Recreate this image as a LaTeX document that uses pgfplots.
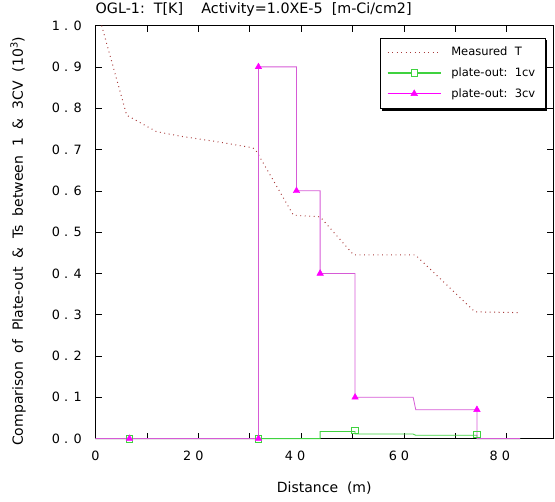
\documentclass[border=0pt]{standalone}
\usepackage{fontspec}
\setmainfont{DejaVu Sans}
\usepackage{pgfplots}
\pgfplotsset{compat=1.18}
\usetikzlibrary{calc}
\definecolor{Tred}{HTML}{A83A3A}
\definecolor{Pgreen}{HTML}{3FD23F}
\definecolor{Pmag}{HTML}{FF00FF}
\definecolor{Pline}{HTML}{D65AD6}
\pgfdeclarelayer{background}
\pgfsetlayers{background,main}

\begin{document}
\begin{tikzpicture}
\begin{axis}[
  name=ax, scale only axis, width=457.5pt, height=413pt,
  xmin=0, xmax=89, ymin=0, ymax=1, clip=false,
  axis line style={line width=0.8pt},
  tick align=inside, xtick pos=both, ytick pos=both,
  major tick length=6pt, tick style={black,line width=0.6pt},
  xtick={0,10,20,30,40,50,60,70,80},
  xticklabels={0,,2 0\hspace*{10pt},,4 0\hspace*{12pt},,6 0\hspace*{10pt},,8 0\hspace*{14pt}},
  ytick={0,0.1,0.2,0.3,0.4,0.5,0.6,0.7,0.8,0.9,1.0},
  yticklabels={0 . 0,0 . 1,0 . 2,0 . 3,0 . 4,0 . 5,0 . 6,0 . 7,0 . 8,0 . 9,1 . 0},
  tick label style={font=\fontsize{12.8}{14}\selectfont},
  yticklabel style={inner sep=0pt, anchor=east, xshift=-13.5pt},
  xticklabel style={inner sep=0pt, anchor=north, yshift=-12pt},
  xlabel={Distance\ \ (m)},
  xlabel style={at={(axis description cs:0.5,-0.1196)}, anchor=center, font=\fontsize{14}{16}\selectfont},
  ylabel={Comparison\ \ of\ \ Plate-out\ \ \&\ \ Ts\ \ between\ \ 1\ \ \&\ \ 3CV\ \ (10\textsuperscript{3})},
  ylabel style={at={(axis description cs:-0.1694,0.478)}, anchor=center, font=\fontsize{14}{16}\selectfont},
  title={OGL-1:\ \ T[K]\ \ \ \ Activity=1.0XE-5\ \ [m-Ci/cm2]},
  title style={at={(axis description cs:0,1.0242)}, anchor=west, inner sep=0pt, font=\fontsize{14.3}{16}\selectfont},
  legend image code/.code={\draw[mark repeat=2,mark phase=2,#1] plot coordinates {(0pt,0pt)(26.5pt,0pt)(53pt,0pt)};},
  legend style={name=leg, at={(0.9825,0.970)}, anchor=north east, draw=none, fill=white,
    font=\fontsize{11.5}{13}\selectfont, row sep=6.5pt, inner xsep=7pt, inner ysep=7pt},
  legend cell align=left,
]
\addplot[Tred, line width=1pt, dash pattern=on 0.9pt off 3.6pt] coordinates {
  (1.2,1.0) (6.07,0.783) (11.9,0.743) (17.1,0.731) (23.6,0.719) (30.6,0.704) (31.2,0.698)
  (38.5,0.541) (43.7,0.537) (50.2,0.445) (62.2,0.445) (73.8,0.307) (82.6,0.305)};
\addlegendentry{\hspace*{8pt}Measured\ \ T\hspace*{14pt}}
\addlegendimage{legend image code/.code={
  \draw[Pgreen, line width=1.1pt] (0pt,0pt) -- (53pt,0pt);
  \draw[Pgreen, line width=0.8pt] plot[only marks, mark=square*, mark size=3.3pt, mark options={fill=white}] coordinates {(26.5pt,0pt)};}}
\addlegendentry{\hspace*{8pt}plate-out:\ \ 1cv}
\addlegendimage{legend image code/.code={
  \draw[Pmag, line width=1.1pt] (0pt,0pt) -- (53pt,0pt);
  \draw[Pmag, line width=0.6pt] plot[only marks, mark=triangle*, mark size=3.8pt, mark options={fill=Pmag}] coordinates {(26.5pt,0pt)};}}
\addlegendentry{\hspace*{8pt}plate-out:\ \ 3cv}

\addplot[Pgreen, line width=0.8pt, forget plot] coordinates {
  (0,0) (43.7,0) (43.7,0.017) (50.5,0.017) (50.5,0.011) (61.8,0.011) (62.3,0.008)
  (74.2,0.008) (74.2,0) (82.6,0)};
\addplot[only marks, Pgreen, mark=square, mark size=3.3pt, line width=0.8pt, forget plot] coordinates {
  (6.6,0) (31.7,0) (50.5,0.02) (74.2,0.01)};
\addplot[Pline, line width=0.8pt, forget plot] coordinates {
  (0,0) (31.7,0) (31.7,0.9) (39.1,0.9) (39.1,0.6) (43.7,0.6) (43.7,0.4) (50.5,0.4)
  (50.5,0.1) (61.8,0.1) (62.3,0.07) (74.2,0.07) (74.2,0) (82.6,0)};
\addplot[only marks, Pmag, mark=triangle*, mark size=3.8pt, mark options={fill=Pmag}, forget plot] coordinates {
  (6.6,0) (31.7,0) (31.7,0.9) (39.1,0.6) (43.7,0.4) (50.5,0.1) (74.2,0.07)};
\end{axis}
\begin{pgfonlayer}{background}
  \fill[black] ($(leg.south west)+(2.5pt,-2.5pt)$) rectangle ($(leg.north east)+(2.5pt,-2.5pt)$);
\end{pgfonlayer}
\draw[black, line width=0.6pt] (leg.south west) rectangle (leg.north east);
\pgfresetboundingbox
\path ($(ax.south west)+(-95.5pt,-62.4pt)$) rectangle ($(ax.north east)+(2pt,25.6pt)$);
\end{tikzpicture}
\end{document}
